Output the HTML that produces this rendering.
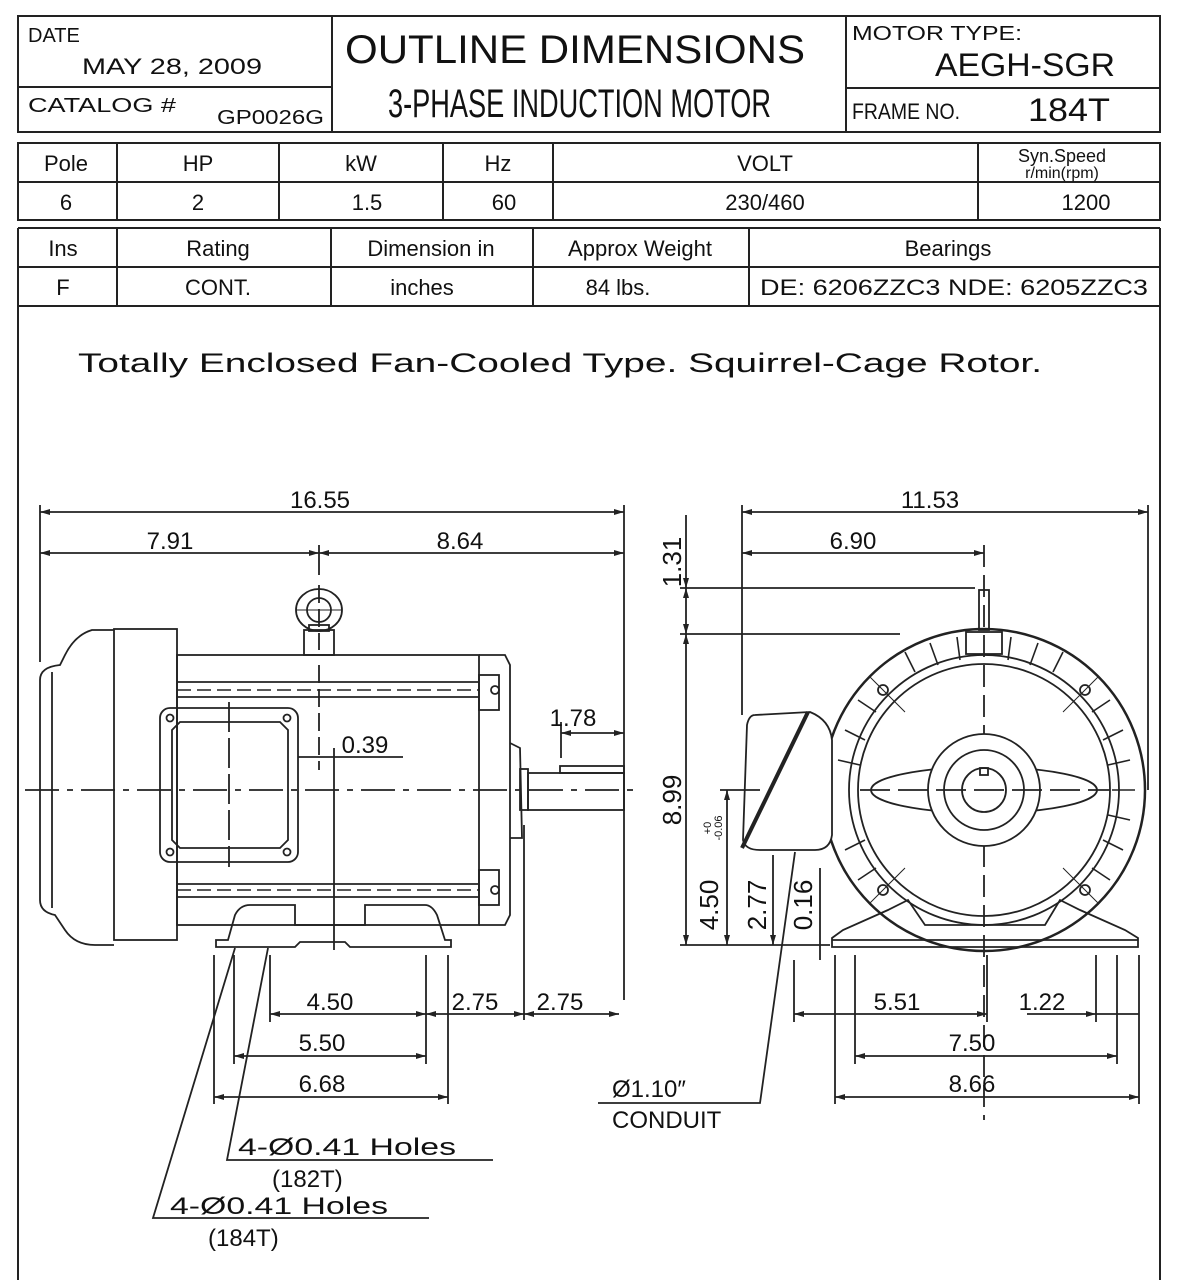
<!DOCTYPE html>
<html><head><meta charset="utf-8"><style>
html,body{margin:0;padding:0;background:#fff;}
svg{display:block}
text{font-family:"Liberation Sans",sans-serif;fill:#111}
</style></head><body>
<svg width="1188" height="1280" viewBox="0 0 1188 1280" xmlns="http://www.w3.org/2000/svg">
<defs>
<marker id="a" viewBox="0 0 10 6" refX="10" refY="3" markerWidth="10" markerHeight="6" orient="auto-start-reverse" markerUnits="userSpaceOnUse"><path d="M0 0 L10 3 L0 6 Z" fill="#222"/></marker>
</defs>
<g stroke="#222" stroke-width="2" fill="none">
<rect x="18" y="16" width="1142" height="116"/>
<line x1="332" y1="16" x2="332" y2="132"/>
<line x1="846" y1="16" x2="846" y2="132"/>
<line x1="18" y1="87" x2="332" y2="87"/>
<line x1="846" y1="88" x2="1160" y2="88"/>
<rect x="18" y="143" width="1142" height="77"/>
<line x1="18" y1="182" x2="1160" y2="182"/>
<line x1="117" y1="143" x2="117" y2="220"/>
<line x1="279" y1="143" x2="279" y2="220"/>
<line x1="443" y1="143" x2="443" y2="220"/>
<line x1="553" y1="143" x2="553" y2="220"/>
<line x1="978" y1="143" x2="978" y2="220"/>
<line x1="18" y1="228" x2="1160" y2="228"/>
<line x1="18" y1="267" x2="1160" y2="267"/>
<line x1="18" y1="306" x2="1160" y2="306"/>
<line x1="18" y1="228" x2="18" y2="1280"/>
<line x1="1160" y1="228" x2="1160" y2="1280"/>
<line x1="117" y1="228" x2="117" y2="306"/>
<line x1="331" y1="228" x2="331" y2="306"/>
<line x1="533" y1="228" x2="533" y2="306"/>
<line x1="749" y1="228" x2="749" y2="306"/>
</g>
<text x="28" y="42" font-size="20">DATE</text>
<text x="82" y="74" font-size="22" textLength="180" lengthAdjust="spacingAndGlyphs">MAY 28, 2009</text>
<text x="28" y="112" font-size="20" textLength="148" lengthAdjust="spacingAndGlyphs">CATALOG #</text>
<text x="217" y="124" font-size="20" textLength="107" lengthAdjust="spacingAndGlyphs">GP0026G</text>
<text x="345" y="63" font-size="40" textLength="460" lengthAdjust="spacingAndGlyphs">OUTLINE DIMENSIONS</text>
<text x="388" y="117" font-size="40" textLength="383" lengthAdjust="spacingAndGlyphs">3-PHASE  INDUCTION  MOTOR</text>
<text x="852" y="40" font-size="20" textLength="170" lengthAdjust="spacingAndGlyphs">MOTOR TYPE:</text>
<text x="935" y="76" font-size="32" textLength="180" lengthAdjust="spacingAndGlyphs">AEGH-SGR</text>
<text x="852" y="119" font-size="22" textLength="108" lengthAdjust="spacingAndGlyphs">FRAME NO.</text>
<text x="1028" y="121" font-size="32" textLength="82" lengthAdjust="spacingAndGlyphs">184T</text>
<g font-size="22" text-anchor="middle">
<text x="66" y="171">Pole</text><text x="198" y="171">HP</text><text x="361" y="171">kW</text><text x="498" y="171">Hz</text><text x="765" y="171">VOLT</text>
<text x="66" y="210">6</text><text x="198" y="210">2</text><text x="367" y="210">1.5</text><text x="504" y="210">60</text><text x="765" y="210">230/460</text><text x="1086" y="210">1200</text>
<text x="63" y="256">Ins</text><text x="218" y="256">Rating</text><text x="431" y="256">Dimension in</text><text x="640" y="256">Approx Weight</text><text x="948" y="256">Bearings</text>
<text x="63" y="295">F</text><text x="218" y="295">CONT.</text><text x="422" y="295">inches</text><text x="618" y="295">84 lbs.</text>
</g>
<text x="1062" y="162" font-size="18" text-anchor="middle">Syn.Speed</text>
<text x="1062" y="178" font-size="16" text-anchor="middle">r/min(rpm)</text>
<text x="760" y="295" font-size="22" textLength="388" lengthAdjust="spacingAndGlyphs">DE: 6206ZZC3 NDE:  6205ZZC3</text>
<text x="78" y="372" font-size="27" textLength="964" lengthAdjust="spacingAndGlyphs">Totally  Enclosed  Fan-Cooled  Type.  Squirrel-Cage  Rotor.</text>

<g stroke="#222" stroke-width="1.8" fill="none">
<line x1="40" y1="505" x2="40" y2="662"/>
<line x1="624" y1="505" x2="624" y2="1000"/>
<line x1="40" y1="512" x2="624" y2="512" marker-start="url(#a)" marker-end="url(#a)"/>
<line x1="40" y1="553" x2="319" y2="553" marker-start="url(#a)" marker-end="url(#a)"/>
<line x1="319" y1="553" x2="624" y2="553" marker-start="url(#a)" marker-end="url(#a)"/>
<line x1="319" y1="545" x2="319" y2="575"/>
<line x1="319" y1="585" x2="319" y2="650" stroke-dasharray="18,6"/>
<line x1="319" y1="665" x2="319" y2="770" stroke-dasharray="18,6"/>
<ellipse cx="319" cy="610" rx="23" ry="21"/>
<circle cx="319" cy="610" r="12"/>
<line x1="296" y1="610" x2="342" y2="610" stroke-width="1"/>
<rect x="304" y="630" width="30" height="25"/>
<rect x="309" y="625" width="20" height="6"/>
<path d="M114 630 L92 630 Q75 635 65 655 L60 665 Q40 667 40 680 L40 900 Q40 912 55 915 L65 930 Q75 945 95 945 L114 945"/>
<line x1="52" y1="672" x2="52" y2="908"/>
<rect x="114" y="629" width="63" height="311"/>
<rect x="177" y="655" width="302" height="270"/>
<line x1="177" y1="682" x2="479" y2="682"/>
<line x1="177" y1="697" x2="479" y2="697"/>
<line x1="177" y1="690" x2="479" y2="690" stroke-dasharray="14,6" stroke-width="1.4"/>
<line x1="177" y1="884" x2="479" y2="884"/>
<line x1="177" y1="897" x2="479" y2="897"/>
<line x1="177" y1="890" x2="479" y2="890" stroke-dasharray="14,6" stroke-width="1.4"/>
<path d="M479 655 L505 655 L510 665 L510 915 L505 925 L479 925"/>
<rect x="479" y="675" width="20" height="35"/>
<rect x="479" y="870" width="20" height="35"/>
<circle cx="495" cy="690" r="4"/><circle cx="495" cy="890" r="4"/>
<path d="M510 743 L520 748 L522 838 L510 838"/>
<rect x="520" y="769" width="8" height="41"/>
<rect x="528" y="773" width="96" height="37"/>
<rect x="560" y="766" width="64" height="7"/>
<rect x="160" y="708" width="138" height="154" rx="10"/>
<path d="M180 722 L280 722 L288 730 L288 840 L280 848 L180 848 L172 840 L172 730 Z"/>
<circle cx="170" cy="718" r="3.5"/><circle cx="287" cy="718" r="3.5"/><circle cx="170" cy="852" r="3.5"/><circle cx="287" cy="852" r="3.5"/>
<line x1="229" y1="702" x2="229" y2="867" stroke-dasharray="30,6"/>
<path d="M216 947 L216 940 L228 940 L235 915 Q240 905 250 905 L295 905 L295 925 L365 925 L365 905 L425 905 Q432 905 437 915 L445 940 L451 940 L451 947 L350 947 L345 942 L300 942 L295 947 Z"/>
<line x1="25" y1="790" x2="640" y2="790" stroke-dasharray="34,8,6,8"/>
<line x1="298" y1="757" x2="403" y2="757"/>
<line x1="334" y1="748" x2="334" y2="950"/>
<line x1="561" y1="722" x2="561" y2="758"/>
<line x1="561" y1="733" x2="624" y2="733" marker-start="url(#a)" marker-end="url(#a)"/>
<line x1="214" y1="955" x2="214" y2="1104"/>
<line x1="234" y1="955" x2="234" y2="1064"/>
<line x1="270" y1="955" x2="270" y2="1022"/>
<line x1="426" y1="955" x2="426" y2="1064"/>
<line x1="448" y1="955" x2="448" y2="1104"/>
<line x1="524" y1="825" x2="524" y2="1020"/>
<line x1="270" y1="1014" x2="426" y2="1014" marker-start="url(#a)" marker-end="url(#a)"/>
<line x1="426" y1="1014" x2="524" y2="1014" marker-start="url(#a)" marker-end="url(#a)"/>
<line x1="524" y1="1014" x2="619" y2="1014" marker-start="url(#a)" marker-end="url(#a)"/>
<line x1="234" y1="1056" x2="426" y2="1056" marker-start="url(#a)" marker-end="url(#a)"/>
<line x1="214" y1="1097" x2="448" y2="1097" marker-start="url(#a)" marker-end="url(#a)"/>
<polyline points="268,948 227,1160 493,1160"/>
<polyline points="235,948 153,1218 429,1218"/>
<line x1="742" y1="505" x2="742" y2="715"/>
<line x1="1148" y1="505" x2="1148" y2="790"/>
<line x1="742" y1="512" x2="1148" y2="512" marker-start="url(#a)" marker-end="url(#a)"/>
<line x1="742" y1="553" x2="984" y2="553" marker-start="url(#a)" marker-end="url(#a)"/>
<line x1="984" y1="545" x2="984" y2="1120" stroke-dasharray="22,8"/>
<line x1="686" y1="515" x2="686" y2="588" marker-end="url(#a)"/>
<line x1="686" y1="588" x2="686" y2="634" marker-start="url(#a)" marker-end="url(#a)"/>
<line x1="686" y1="634" x2="686" y2="945" marker-start="url(#a)" marker-end="url(#a)"/>
<line x1="680" y1="588" x2="975" y2="588"/>
<line x1="680" y1="634" x2="900" y2="634"/>
<line x1="680" y1="945" x2="830" y2="945"/>
<rect x="979" y="590" width="10" height="40"/>
<circle cx="984" cy="790" r="161" stroke-width="2.5"/>
<circle cx="984" cy="790" r="135"/>
<circle cx="984" cy="790" r="126"/>
<rect x="966" y="632" width="36" height="22"/>
<ellipse cx="984" cy="790" rx="113" ry="23"/>
<circle cx="984" cy="790" r="56" fill="#fff"/>
<circle cx="984" cy="790" r="40"/>
<circle cx="984" cy="790" r="22"/>
<rect x="980" y="768" width="8" height="7"/>
<line x1="860" y1="790" x2="1110" y2="790" stroke-dasharray="30,8"/>
<circle cx="883" cy="690" r="5"/><circle cx="1085" cy="690" r="5"/><circle cx="883" cy="890" r="5"/><circle cx="1085" cy="890" r="5"/>
<line x1="870" y1="677" x2="905" y2="712" stroke-width="1"/><line x1="1098" y1="677" x2="1063" y2="712" stroke-width="1"/>
<line x1="870" y1="903" x2="905" y2="868" stroke-width="1"/><line x1="1098" y1="903" x2="1063" y2="868" stroke-width="1"/>
<g stroke-width="1.6">
<line x1="957" y1="637" x2="960" y2="660"/><line x1="930" y1="643" x2="938" y2="665"/><line x1="905" y1="652" x2="915" y2="672"/><line x1="1011" y1="637" x2="1008" y2="660"/><line x1="1038" y1="643" x2="1030" y2="665"/><line x1="1063" y1="652" x2="1053" y2="672"/>
<line x1="845" y1="730" x2="865" y2="740"/><line x1="838" y1="760" x2="860" y2="765"/><line x1="1123" y1="730" x2="1103" y2="740"/><line x1="1130" y1="760" x2="1108" y2="765"/><line x1="1135" y1="790" x2="1112" y2="790"/><line x1="1130" y1="820" x2="1108" y2="815"/><line x1="1123" y1="850" x2="1103" y2="840"/><line x1="845" y1="850" x2="865" y2="840"/>
<line x1="1110" y1="700" x2="1092" y2="712"/><line x1="858" y1="700" x2="876" y2="712"/><line x1="1110" y1="880" x2="1092" y2="868"/><line x1="858" y1="880" x2="876" y2="868"/>
</g>
<path d="M832 938 L832 947 L1138 947 L1138 938 L1125 930 L1080 910 L1060 900 L1045 925 L925 925 L908 900 L888 910 L843 930 Z"/>
<line x1="832" y1="940" x2="1138" y2="940"/>
<path d="M755 715 L810 712 Q830 720 832 740 L832 835 Q830 850 815 850 L760 850 Q745 850 743 840 L747 725 Q749 715 755 715 Z" fill="#fff"/>
<line x1="742" y1="848" x2="808" y2="712" stroke-width="4"/>
<line x1="727" y1="790" x2="727" y2="945" marker-start="url(#a)" marker-end="url(#a)"/>
<line x1="720" y1="790" x2="760" y2="790"/>
<line x1="773" y1="855" x2="773" y2="945" marker-end="url(#a)"/>
<line x1="820" y1="868" x2="820" y2="960"/>
<line x1="794" y1="960" x2="794" y2="1022"/>
<line x1="835" y1="955" x2="835" y2="1104"/>
<line x1="855" y1="955" x2="855" y2="1064"/>
<line x1="987" y1="955" x2="987" y2="1022"/>
<line x1="1096" y1="955" x2="1096" y2="1022"/>
<line x1="1117" y1="955" x2="1117" y2="1064"/>
<line x1="1139" y1="955" x2="1139" y2="1104"/>
<line x1="794" y1="1014" x2="987" y2="1014" marker-start="url(#a)" marker-end="url(#a)"/>
<line x1="1027" y1="1014" x2="1096" y2="1014" marker-end="url(#a)"/>
<line x1="1096" y1="1014" x2="1139" y2="1014"/>
<line x1="855" y1="1056" x2="1117" y2="1056" marker-start="url(#a)" marker-end="url(#a)"/>
<line x1="835" y1="1097" x2="1139" y2="1097" marker-start="url(#a)" marker-end="url(#a)"/>
<polyline points="795,852 760,1103 598,1103"/>
</g>
<g font-size="24" text-anchor="middle">
<text x="320" y="508">16.55</text><text x="170" y="549">7.91</text><text x="460" y="549">8.64</text>
<text x="573" y="726">1.78</text><text x="365" y="753">0.39</text>
<text x="330" y="1010">4.50</text><text x="475" y="1010">2.75</text><text x="560" y="1010">2.75</text>
<text x="322" y="1051">5.50</text><text x="322" y="1092">6.68</text>
<text x="930" y="508">11.53</text><text x="853" y="549">6.90</text>
<text x="897" y="1010">5.51</text><text x="1042" y="1010">1.22</text>
<text x="972" y="1051">7.50</text><text x="972" y="1092">8.66</text>
</g>
<g font-size="24">
<text x="612" y="1097">Ø1.10″</text>
<text x="612" y="1128">CONDUIT</text>
<text x="238" y="1155" textLength="218" lengthAdjust="spacingAndGlyphs">4-Ø0.41  Holes</text>
<text x="272" y="1187">(182T)</text>
<text x="170" y="1214" textLength="218" lengthAdjust="spacingAndGlyphs">4-Ø0.41  Holes</text>
<text x="208" y="1246">(184T)</text>
</g>
<g font-size="26" text-anchor="middle">
<text transform="translate(681,562) rotate(-90)">1.31</text>
<text transform="translate(681,800) rotate(-90)">8.99</text>
<text transform="translate(718,905) rotate(-90)">4.50</text>
<text transform="translate(766,905) rotate(-90)">2.77</text>
<text transform="translate(812,905) rotate(-90)">0.16</text>
</g>
<g font-size="11" text-anchor="middle">
<text transform="translate(711,828) rotate(-90)">+0</text>
<text transform="translate(722,828) rotate(-90)">-0.06</text>
</g>
</svg>
</body></html>
